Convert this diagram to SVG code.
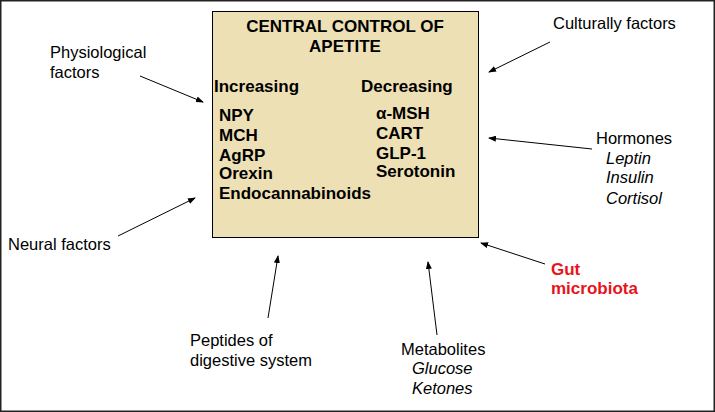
<svg xmlns="http://www.w3.org/2000/svg" width="715" height="412" viewBox="0 0 715 412">
<style>
text{font-family:"Liberation Sans",Arial,sans-serif;font-size:16.5px;fill:#000}
.b{font-weight:bold;font-size:17px}
.i{font-style:italic}
.c{stroke:#000;stroke-width:1;fill:none;marker-end:url(#a)}
</style>
<defs><marker id="a" markerWidth="8" markerHeight="6" refX="7" refY="3" orient="auto" markerUnits="userSpaceOnUse"><path d="M0,0L8,3L0,6z" fill="#000"/></marker></defs>
<rect x="0.5" y="0.5" width="714" height="411" fill="#fff" stroke="#222" stroke-width="2"/>
<g id="central">
<rect x="212.5" y="11.5" width="266" height="226" fill="#eee0b5" stroke="#000"/>
<text class="b" x="345" y="32" text-anchor="middle">CENTRAL CONTROL OF</text>
<text class="b" x="345" y="52" text-anchor="middle">APETITE</text>
<text class="b" x="214" y="92">Increasing</text>
<text class="b" x="361" y="92">Decreasing</text>
<text class="b" x="219" y="121">NPY</text>
<text class="b" x="219" y="141">MCH</text>
<text class="b" x="219" y="161">AgRP</text>
<text class="b" x="219" y="179">Orexin</text>
<text class="b" x="219" y="199">Endocannabinoids</text>
<text class="b" x="376" y="119">α-MSH</text>
<text class="b" x="376" y="139">CART</text>
<text class="b" x="376" y="159">GLP-1</text>
<text class="b" x="376" y="177">Serotonin</text>
</g>
<g id="physiological"><text x="50" y="58">Physiological</text><text x="50" y="78">factors</text></g>
<g id="cultural"><text x="553" y="29">Culturally factors</text></g>
<g id="hormones"><text x="596" y="144">Hormones</text><text class="i" x="606" y="164">Leptin</text><text class="i" x="606" y="183">Insulin</text><text class="i" x="606" y="204">Cortisol</text></g>
<g id="neural"><text x="8" y="250">Neural factors</text></g>
<g id="gut"><text class="b" x="551" y="275" style="fill:#e8141c">Gut</text><text class="b" x="551" y="294" style="fill:#e8141c">microbiota</text></g>
<g id="peptides"><text x="190" y="346">Peptides of</text><text x="190" y="366">digestive system</text></g>
<g id="metabolites"><text x="401" y="355">Metabolites</text><text class="i" x="412" y="374">Glucose</text><text class="i" x="412" y="394">Ketones</text></g>
<g id="connectors">
<path class="c" d="M140,76L203,102"/>
<path class="c" d="M550,42L489,72"/>
<path class="c" d="M592,149L489,138"/>
<path class="c" d="M545,264L481,243"/>
<path class="c" d="M437,335L428,262"/>
<path class="c" d="M268,318L278,256"/>
<path class="c" d="M118,236L195,198"/>
</g>
</svg>
